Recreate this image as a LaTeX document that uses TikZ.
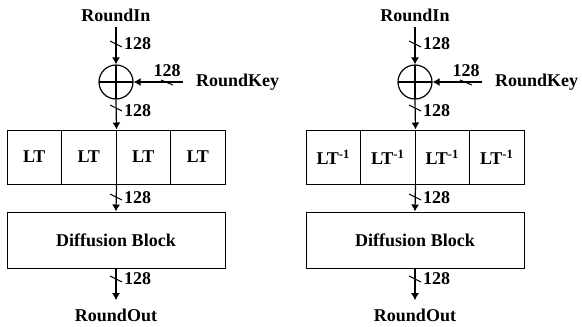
\documentclass[tikz,border=0pt]{standalone}
\usepackage{fontspec}
\setmainfont{Liberation Serif}
\usetikzlibrary{arrows.meta}
\tikzset{
  txt/.style={font=\fontsize{18}{20}\selectfont\bfseries},
  wire/.style={line width=1.2pt},
  arr/.style={wire,-{Latex[length=7pt,width=8pt]}},
  cell/.style={txt,draw,line width=1pt,minimum width=54.5pt,minimum height=54pt,inner sep=0pt},
  bigbox/.style={txt,draw,line width=1pt,minimum width=218pt,minimum height=56pt,inner sep=0pt},
  xorop/.style={draw,circle,line width=1.2pt,minimum size=34pt,inner sep=0pt,
    path picture={\draw[line width=1.2pt] (path picture bounding box.north) -- (path picture bounding box.south)
      (path picture bounding box.west) -- (path picture bounding box.east);}},
  lbl/.style={txt,anchor=west,inner sep=0pt},
  buswidth/.style={line width=1pt}
}
\newcommand\drawpanel[3]{%
\begin{scope}[xshift=#2pt]
  \node[txt,inner sep=0pt,outer sep=5.5pt] (#1in) at (116,15) {RoundIn};
  \node[xorop] (#1x) at (116,82) {};
  \draw[arr] (#1in.south) -- (#1x.north);
  \draw[buswidth] (110,41) -- (122,47);
  \node[lbl] (#1w1) at (124,44) {128};
  \node[txt,anchor=west,inner xsep=13pt,inner ysep=0pt] (#1key) at (183,82) {RoundKey};
  \draw[arr] (#1key.west) -- (#1x.east);
  \draw[buswidth] (161,80) -- (173,85);
  \node[txt,inner sep=0pt] (#1w2) at (167,71) {128};
  \node[cell] (#1c1) at (34.25,157) {#3};
  \node[cell] (#1c2) at (88.75,157) {#3};
  \node[cell] (#1c3) at (143.25,157) {#3};
  \node[cell] (#1c4) at (197.75,157) {#3};
  \draw[arr] (#1x.south) -- (#1c2.north east);
  \draw[buswidth] (110,105) -- (122,111);
  \node[lbl] (#1w3) at (124,111) {128};
  \node[bigbox] (#1d) at (116,240) {Diffusion Block};
  \draw[arr] (#1c2.south east) -- (#1d.north);
  \draw[buswidth] (110,194) -- (122,200);
  \node[lbl] (#1w4) at (124,198) {128};
  \node[txt,inner sep=0pt,outer ysep=8.5pt] (#1out) at (116,315) {RoundOut};
  \draw[arr] (#1d.south) -- (#1out.north);
  \draw[buswidth] (110,276) -- (122,282);
  \node[lbl] (#1w5) at (124,279) {128};
\end{scope}}
\begin{document}
\begin{tikzpicture}[x=1pt,y=-1pt]
  \useasboundingbox (0,0) rectangle (582,327);
  \drawpanel{L}{0}{LT}
  \drawpanel{R}{299}{LT\textsuperscript{-1}}
\end{tikzpicture}
\end{document}
